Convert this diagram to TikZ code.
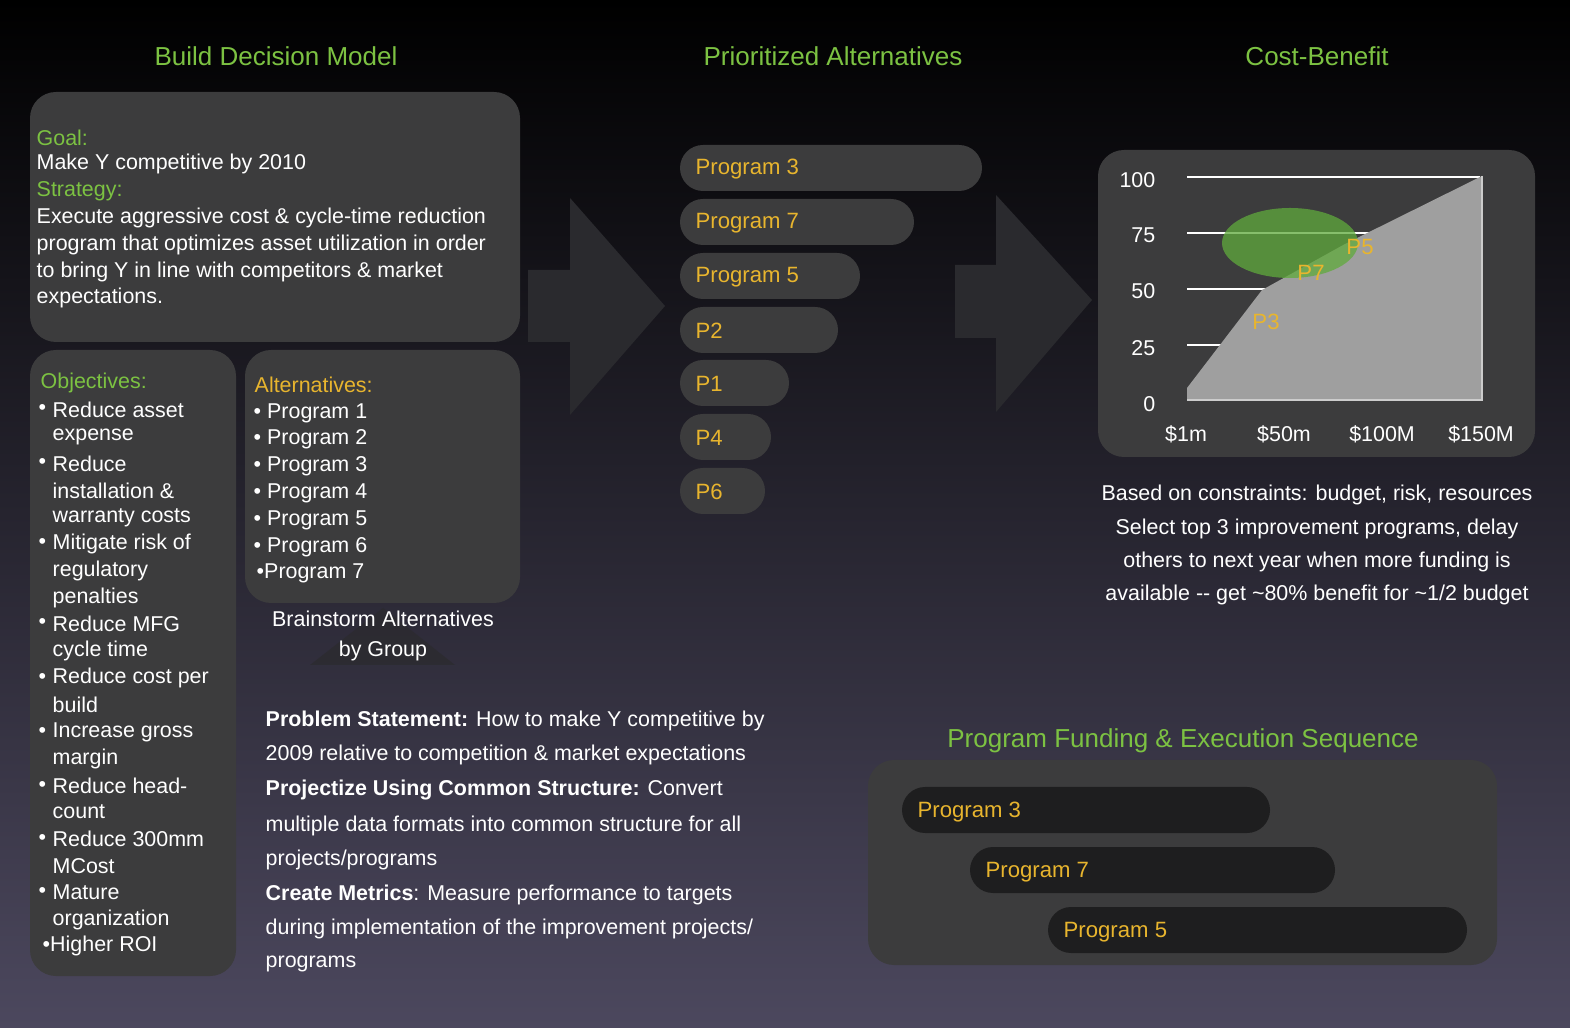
\documentclass[tikz,border=0pt]{standalone}
\usepackage{fontspec}
\setmainfont{Liberation Sans}
\usetikzlibrary{positioning}
\definecolor{titleGreen}{HTML}{7CC242}
\definecolor{pillGold}{HTML}{E8B52E}
\definecolor{boxGrey}{HTML}{3C3C3D}
\definecolor{barDark}{HTML}{1E1E1F}
\definecolor{arrowGrey}{HTML}{2A2A2E}
\definecolor{ellipseGreen}{HTML}{60AA3C}
\definecolor{bgMid}{HTML}{16141E}
\definecolor{bgLow}{HTML}{4C485E}
\tikzstyle{panel}=[fill = boxGrey, rounded corners = 2.6mm]
\tikzstyle{heading}=[text = titleGreen, font = \fontsize{7.4}{9}\selectfont]
\tikzstyle{txt}=[text = white, anchor = west, inner sep = 0pt, font = \fontsize{6.1}{7.5}\selectfont]
\tikzstyle{lab}=[txt, text = titleGreen]
\tikzstyle{pill}=[fill = boxGrey, rounded corners = 2.3mm]
\tikzstyle{pillText}=[txt, text = pillGold, font = \fontsize{6.3}{7.5}\selectfont]

\begin{document}
\begin{tikzpicture}[x = 0.1mm, y = -0.1mm]
\shade[top color = black, middle color = bgMid, bottom color = bgLow] (0,0) rectangle (1570,1028);
\useasboundingbox (0,0) rectangle (1570,1028);
% headings
\node[heading] (hBuild) at (276,56) {Build Decision Model};
\node[heading] (hPrio) at (833,56) {Prioritized Alternatives};
\node[heading] (hCost) at (1317,56) {Cost-Benefit};
\node[heading] (hFund) at (1183,741) {Program Funding \& Execution Sequence};
% panels
\fill[panel] (30,92) rectangle (520,342);
\fill[panel] (30,350) rectangle (236,976);
\fill[panel] (245,350) rectangle (520,603);
\fill[panel] (1098,150) rectangle (1535,457);
\fill[panel] (868,760) rectangle (1497,965);
% big arrows
\fill[arrowGrey] (528,270) -- (570,270) -- (570,198) -- (665,306) -- (570,415) -- (570,342) -- (528,342) -- cycle;
\fill[arrowGrey] (955,265) -- (996,265) -- (996,195) -- (1092,300) -- (996,412) -- (996,338) -- (955,338) -- cycle;
\fill[boxGrey!70!black, opacity = 0.6] (310,665) -- (383,608) -- (455,665) -- cycle;
% goal
\node[lab] (goal) at (36,138) {Goal:};
\node[txt] (goalT) at (36,164) {Make Y competitive by 2010};
\node[lab] (strat) at (36,191) {Strategy:};
\foreach \y/\t [count = \i] in {218/Execute aggressive cost \& cycle-time reduction,
  245/program that optimizes asset utilization in order,
  272/to bring Y in line with competitors \& market, 298/expectations.}
  \node[txt] (strat\i) at (36,\y) {\t};
% objectives
\node[lab] (obj) at (40,383) {Objectives:};
\foreach \y/\b/\t [count = \i] in {410/{\textbullet}/Reduce asset, 437//expense, 464/{\textbullet}/Reduce,
  491//installation \&, 518//warranty costs, 544/{\textbullet}/Mitigate risk of, 571//regulatory,
  598//penalties, 624/{\textbullet}/Reduce MFG, 651//cycle time, 678/{\textbullet}/Reduce cost per,
  705//build, 732/{\textbullet}/Increase gross, 759//margin, 786/{\textbullet}/Reduce head-,
  812//count, 839/{\textbullet}/Reduce 300mm, 866//MCost, 892/{\textbullet}/Mature, 920//organization}
  {\node[txt] (objB\i) at (38,\y) {\b};
   \node[txt] (obj\i) at (52,\y) {\t};}
\node[txt] (objLast) at (42,946) {\textbullet Higher ROI};
% alternatives
\node[lab, text = pillGold] (alt) at (254,385) {Alternatives:};
\foreach \y [count = \i] in {413,439,466,493,520,547}
  \node[txt] (alt\i) at (253,\y) {\textbullet\ Program \i};
\node[txt] (alt7) at (256,573) {\textbullet Program 7};
\node[txt, anchor = center, align = center, font = \fontsize{6.1}{8.6}\selectfont] (brain) at (383,636) {Brainstorm Alternatives\\by Group};
% problem statement
\foreach \y/\t [count = \i] in {721/{\textbf{Problem Statement:} How to make Y competitive by},
  755/{2009 relative to competition \& market expectations},
  790/{\textbf{Projectize Using Common Structure:} Convert},
  826/{multiple data formats into common structure for all},
  860/{projects/programs},
  895/{\textbf{Create Metrics}: Measure performance to targets},
  929/{during implementation of the improvement projects/},
  964/{programs}}
  \node[txt] (prob\i) at (265,\y) {\t};
% prioritized pills
\foreach \y/\r/\t [count = \i] in {168/982/Program 3, 222/914/Program 7, 276/860/Program 5,
  330/838/P2, 383/789/P1, 437/771/P4, 491/765/P6}
  {\fill[pill] (680,\y-23) rectangle (\r,\y+23);
   \node[pillText] (prio\i) at (695,\y+1) {\t};}
% chart
\foreach \y/\v [count = \i] in {180/100, 235/75, 291/50, 348/25, 404/0}
  \node[txt, anchor = east] (yl\i) at (1156,\y) {\v};
\foreach \y in {177,233,289,345}
  \draw[white, line width = 0.25mm] (1187,\y) -- (1480,\y);
\fill[gray!75!white] (1187,388) -- (1262,290) -- (1345,244) -- (1482,176) -- (1482,400) -- (1187,400) -- cycle;
\draw[gray!40!white, line width = 0.2mm] (1482,176) -- (1482,400) -- (1187,400);
\fill[ellipseGreen, opacity = 0.75] (1290,243) ellipse (68 and 35);
\node[pillText, anchor = center] (c5) at (1360,247) {P5};
\node[pillText, anchor = center] (c7) at (1311,273) {P7};
\node[pillText, anchor = center] (c3) at (1266,322) {P3};
\foreach \x/\t [count = \i] in {1186/\$1m, 1284/\$50m, 1382/\$100M, 1481/\$150M}
  \node[txt, anchor = center] (xl\i) at (\x,434) {\t};
\node[txt, anchor = center, align = center, font = \fontsize{6.1}{9.4}\selectfont] (note) at (1317,545)
  {Based on constraints: budget, risk, resources\\Select top 3 improvement programs, delay\\others to next year when more funding is\\available -{}- get \textasciitilde80\% benefit for \textasciitilde1/2 budget};
% funding bars
\foreach \l/\r/\y/\t [count = \i] in {902/1270/810/Program 3, 970/1335/870/Program 7, 1048/1467/930/Program 5}
  {\fill[barDark, rounded corners = 2.3mm] (\l,\y-23) rectangle (\r,\y+23);
   \node[pillText] (fund\i) at (\l+15,\y+2) {\t};}
\end{tikzpicture}
\end{document}
